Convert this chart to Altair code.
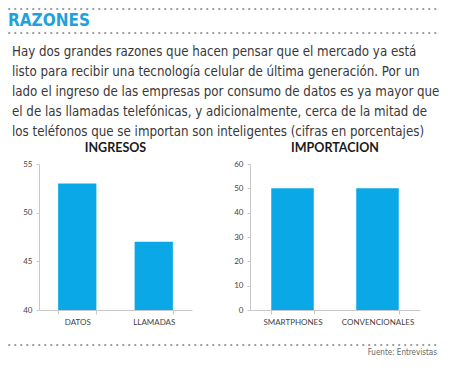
import altair as alt
import pandas as pd

# ---- data ----
ingresos_cats = ["DATOS", "LLAMADAS"]
ingresos_vals = [53, 47]
import_cats = ["SMARTPHONES", "CONVENCIONALES"]
import_vals = [50, 50]
ingresos_ticks = [40, 45, 50, 55]
import_ticks = [0, 10, 20, 30, 40, 50, 60]

header_title = "RAZONES"
paragraph = [
    "Hay dos grandes razones que hacen pensar que el mercado ya está",
    "listo para recibir una tecnología celular de última generación. Por un",
    "lado el ingreso de las empresas por consumo de datos es ya mayor que",
    "el de las llamadas telefónicas, y adicionalmente, cerca de la mitad de",
    "los teléfonos que se importan son inteligentes (cifras en porcentajes)",
]
source = "Fuente: Entrevistas"
left_title = "INGRESOS"
right_title = "IMPORTACION"

BAR = "#0aa8e6"
HEAD = "#1ea2dc"
DOT = "#9a9a9a"
NARROW = "DejaVu Sans Condensed, Roboto, sans-serif"
SANS = "Lato"

df_left = pd.DataFrame({"cat": ingresos_cats, "val": ingresos_vals})
df_right = pd.DataFrame({"cat": import_cats, "val": import_vals})

one = alt.Data(values=[{}])


def x_axis():
    return alt.Axis(title=None, labelAngle=0, tickBand="extent", tickSize=4,
                    labelPadding=4, labelFontSize=8, labelColor="#444",
                    labelFont=SANS, domainColor="#c8c8c8", tickColor="#c8c8c8")


def y_axis(vals):
    return alt.Axis(title=None, values=vals, grid=False, tickSize=3,
                    labelPadding=4, labelFontSize=8, labelColor="#444",
                    labelFont=SANS, domainColor="#c8c8c8", tickColor="#c8c8c8")


def panel_title(t, w):
    return alt.Chart(one).mark_text(align="center", baseline="alphabetic", font=SANS,
                                    fontSize=12.5, fontWeight="bold", color="#1a1a1a").encode(
        x=alt.value(w / 2), y=alt.value(-12), text=alt.value(t))


def dotted(y):
    return alt.Chart(one).mark_rule(color=DOT, strokeDash=[0.5, 5.5], strokeWidth=1.8,
                                    strokeCap="round").encode(
        x=alt.value(-30), x2=alt.value(401), y=alt.value(y))


bars_left = alt.Chart(df_left).mark_bar(color=BAR).encode(
    x=alt.X("cat:N", sort=None, scale=alt.Scale(paddingInner=0.5, paddingOuter=0.25), axis=x_axis()),
    y=alt.Y("val:Q", scale=alt.Scale(domain=[40, 55], zero=False, nice=False), axis=y_axis(ingresos_ticks)),
    y2=alt.Y2Datum(40),
)

head_text = alt.Chart(one).mark_text(align="left", baseline="alphabetic", font=NARROW,
                                     fontWeight="bold", fontSize=17, color=HEAD).encode(
    x=alt.value(-31), y=alt.value(-138), text=alt.value(header_title))

para_text = alt.Chart(one).mark_text(align="left", baseline="alphabetic", font=NARROW,
                                     fontSize=13.2, lineHeight=20, color="#383838").encode(
    x=alt.value(-27), y=alt.value(-108), text=alt.value(paragraph))

foot_text = alt.Chart(one).mark_text(align="right", baseline="alphabetic", font=NARROW,
                                     fontSize=8, color="#666666").encode(
    x=alt.value(398), y=alt.value(191), text=alt.value(source))

left = alt.layer(
    bars_left, panel_title(left_title, 153), dotted(-155), head_text, dotted(-131),
    para_text, dotted(181), foot_text
).properties(width=153, height=146)

bars_right = alt.Chart(df_right).mark_bar(color=BAR).encode(
    x=alt.X("cat:N", sort=None, scale=alt.Scale(paddingInner=0.5, paddingOuter=0.25), axis=x_axis()),
    y=alt.Y("val:Q", scale=alt.Scale(domain=[0, 60], nice=False), axis=y_axis(import_ticks)),
)

right = alt.layer(bars_right, panel_title(right_title, 170)).properties(width=170, height=146)

chart = alt.hconcat(left, right, spacing=58, bounds="flush").properties(
    padding=0, background="white"
).configure_view(stroke=None)

chart.save("out.html", embed_options={"renderer": "svg", "actions": False})
